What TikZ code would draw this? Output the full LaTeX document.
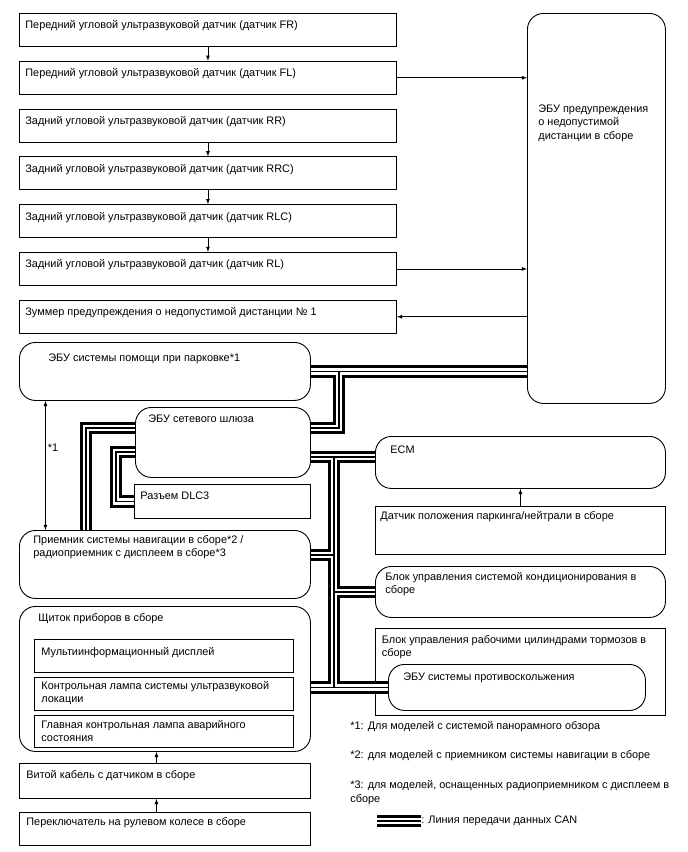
\documentclass[tikz,border=0pt]{standalone}
\usepackage{fontspec}
\setmainfont{Liberation Sans}
\usetikzlibrary{positioning}

\tikzset{
  box/.style={draw, line width=0.9pt, anchor=north west, inner sep=0pt},
  rbox/.style={box, rounded corners=16pt},
  lbl/.style={anchor=north west, inner sep=0pt, align=left, execute at begin node=\strut},
  note/.style={anchor=west, inner sep=0pt, align=left},
  canline/.style={draw, line width=1.1pt,
    preaction={draw, line width=12.5pt},
    preaction={draw=white, line width=6.5pt}},
}

\begin{document}
\begin{tikzpicture}[>=latex, x=1pt, y=-1pt, line width=0.8pt,
    font=\fontsize{10.9}{13.5}\selectfont]
  \useasboundingbox (0,0) rectangle (688,852);

  % 1. Датчики и зуммер
  \foreach \i/\nm/\txt in {0/fr/{Передний угловой ультразвуковой датчик (датчик FR)},
      1/fl/{Передний угловой ультразвуковой датчик (датчик FL)},
      2/rr/{Задний угловой ультразвуковой датчик (датчик RR)},
      3/rrc/{Задний угловой ультразвуковой датчик (датчик RRC)},
      4/rlc/{Задний угловой ультразвуковой датчик (датчик RLC)},
      5/rl/{Задний угловой ультразвуковой датчик (датчик RL)},
      6/bz/{Зуммер предупреждения о недопустимой дистанции № 1}} {
    \node[box, minimum width=377pt, minimum height=33pt,
      label={[lbl, xshift=6pt, yshift=-6pt]north west:\txt}] (\nm) at (19,{13+47.8*\i}) {};
  }
  \foreach \a/\b in {fr/fl, rr/rrc, rrc/rlc, rlc/rl}
    \draw[->] (\a.south) -- (\b.north);

  % 2. ЭБУ предупреждения
  \node[rbox, minimum width=138pt, minimum height=390pt,
    label={[lbl, xshift=11pt, yshift=-91pt]north west:{ЭБУ предупреждения\\о недопустимой\\дистанции в сборе}}] (ecu) at (527,13) {};
  \draw[->] (fl.east) -- (fl.east -| ecu.west);
  \draw[->] (rl.east) -- (rl.east -| ecu.west);
  \draw[->] (bz.east -| ecu.west) -- (bz.east);

  % 3. Левая колонка
  \node[rbox, minimum width=291pt, minimum height=58pt,
    label={[lbl, xshift=29pt, yshift=-10pt]north west:ЭБУ системы помощи при парковке*1}] (park) at (19,342) {};
  \node[rbox, minimum width=175pt, minimum height=70pt,
    label={[lbl, xshift=13pt, yshift=-6pt]north west:ЭБУ сетевого шлюза}] (gw) at (135,407) {};
  \node[box, minimum width=176pt, minimum height=34pt,
    label={[lbl, xshift=6pt, yshift=-6pt]north west:Разъем DLC3}] (dlc) at (134,484) {};
  \node[rbox, minimum width=291pt, minimum height=68pt,
    label={[lbl, xshift=14pt, yshift=-5pt]north west:{Приемник системы навигации в сборе*2 /\\радиоприемник с дисплеем в сборе*3}}] (nav) at (19,530) {};
  \node[rbox, minimum width=291pt, minimum height=145pt,
    label={[lbl, xshift=19pt, yshift=-6pt]north west:Щиток приборов в сборе}] (cl) at (19,606) {};
  \node[box, minimum width=259pt, minimum height=33pt,
    label={[lbl, xshift=7pt, yshift=-6.7pt]north west:Мультиинформационный дисплей}] (mid) at (34,639) {};
  \node[box, minimum width=259pt, minimum height=33pt,
    label={[lbl, xshift=7pt, yshift=-4pt]north west:{Контрольная лампа системы ультразвуковой\\локации}}] (lamp) at (34,677) {};
  \node[box, minimum width=259pt, minimum height=32pt,
    label={[lbl, xshift=7pt, yshift=-4.7pt]north west:{Главная контрольная лампа аварийного\\состояния}}] (mil) at (34,715) {};
  \node[box, minimum width=291pt, minimum height=35pt,
    label={[lbl, xshift=7pt, yshift=-6pt]north west:Витой кабель с датчиком в сборе}] (sp) at (19,763) {};
  \node[box, minimum width=291pt, minimum height=33pt,
    label={[lbl, xshift=7pt, yshift=-4pt]north west:Переключатель на рулевом колесе в сборе}] (sw) at (19,812) {};
  \draw[->] ([xshift=-8.5pt]sp.north) -- ([xshift=-8.5pt]cl.south);
  \draw[->] ([xshift=-8.5pt]sw.north) -- ([xshift=-8.5pt]sp.south);
  \draw[<->] ([xshift=-119.5pt]park.south) -- ([xshift=-119.5pt]nav.north)
    node[pos=0.36, right, inner sep=2pt] (fn1) {*1};

  % 4. Правая колонка
  \node[rbox, minimum width=290pt, minimum height=52pt,
    label={[lbl, xshift=15pt, yshift=-8pt]north west:ECM}] (ecm) at (375,436) {};
  \node[box, minimum width=290pt, minimum height=48pt,
    label={[lbl, xshift=5pt, yshift=-4pt]north west:Датчик положения паркинга/нейтрали в сборе}] (pn) at (375,506) {};
  \node[rbox, minimum width=290pt, minimum height=51pt,
    label={[lbl, xshift=10pt, yshift=-5.7pt]north west:{Блок управления системой кондиционирования в\\сборе}}] (ac) at (375,566) {};
  \node[box, minimum width=290pt, minimum height=87pt,
    label={[lbl, xshift=6.5pt, yshift=-7pt]north west:{Блок управления рабочими цилиндрами тормозов в\\сборе}}] (act) at (375,628) {};
  \node[rbox, minimum width=257pt, minimum height=46pt,
    label={[lbl, xshift=15pt, yshift=-6.7pt]north west:ЭБУ системы противоскольжения}] (skid) at (388,664) {};
  \draw[->] (pn.north) -- (ecm.south);

  % 5. Линии CAN
  \coordinate (j1) at (339,371);
  \coordinate (j2) at (334,457);
  \coordinate (j3) at (334,555);
  \coordinate (k1) at (86,428);
  \coordinate (k2) at (116,452);
  \draw[canline]
    (park.east) -- (park.east -| ecu.west)
    (j1) -- (j1 |- k1) -- (k1 -| gw.east)
    (j2 -| gw.east) -- (j2 -| ecm.west)
    (j2) -- (j2 |- skid.west)
    (skid.west -| cl.east) -- (skid.west)
    (j3 -| nav.east) -- (j3)
    (ac.west -| j2) -- (ac.west)
    (k1 -| gw.west) -- (k1) -- (k1 |- nav.north)
    (k2 -| gw.west) -- (k2) -- (k2 |- dlc.west) -- (dlc.west);

  % 6. Примечания
  \node[note] (n1) at (350,727) {*1: Для моделей с системой панорамного обзора};
  \node[note] (n2) at (350,756) {*2: для моделей с приемником системы навигации в сборе};
  \node[lbl] (n3) at (350,780)
    {*3: для моделей, оснащенных радиоприемником с дисплеем в\\сборе};
  \node[note] (leg) at (421,821) {: Линия передачи данных CAN};
  \coordinate (l0) at (377,821);
  \draw[canline] (l0) -- (l0 -| leg.west);
\end{tikzpicture}
\end{document}
